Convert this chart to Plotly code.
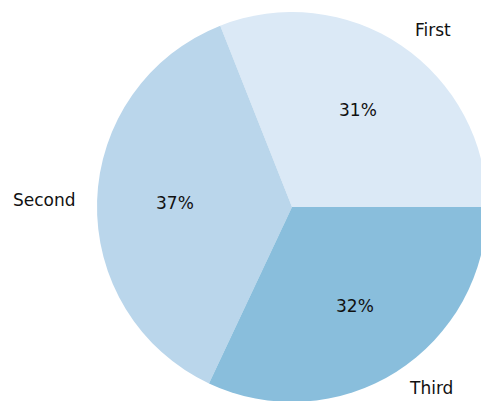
import math
import plotly.graph_objects as go

labels = ["First", "Second", "Third"]
values = [31, 37, 32]
colors = ["#dbe9f6", "#bad6eb", "#89bedc"]

W, H = 488, 402          # figure slightly wider than the window: pie is clipped like the original
cx, cy, r = 292, 207, 195  # pie centre / radius in pixels

total = sum(values)
# plotly counterclockwise: first slice lies clockwise of the rotation line
rotation = 90 - 360 * values[0] / total

fig = go.Figure(go.Pie(
    labels=labels, values=values, sort=False,
    direction="counterclockwise", rotation=rotation,
    marker=dict(colors=colors, line=dict(width=0)),
    textinfo="none", hoverinfo="label+percent",
    domain=dict(x=[(cx - r) / W, (cx + r) / W],
                y=[max(0, (H - cy - r) / H), (H - cy + r) / H]),
    showlegend=False,
))

annotations = []
start = 0.0
font = dict(family="DejaVu Sans", size=17, color="#111")
for lab, v in zip(labels, values):
    frac = v / total
    mid = math.radians((start + frac / 2) * 360)
    start += frac
    lx = cx + 1.1 * r * math.cos(mid)
    ly = cy - 1.1 * r * math.sin(mid)
    annotations.append(dict(
        x=lx / W, y=1 - ly / H, xref="paper", yref="paper",
        text=lab, showarrow=False,
        xanchor="left" if math.cos(mid) > 0 else "right", yanchor="middle",
        font=font))
    px = cx + 0.6 * r * math.cos(mid)
    py = cy - 0.6 * r * math.sin(mid)
    annotations.append(dict(
        x=px / W, y=1 - py / H, xref="paper", yref="paper",
        text=f"{round(100 * frac)}%", showarrow=False,
        xanchor="center", yanchor="middle",
        font=font))

fig.update_layout(
    width=W, height=H, margin=dict(l=0, r=0, t=0, b=0),
    paper_bgcolor="white", plot_bgcolor="white",
    annotations=annotations,
)
fig.write_html(
    "out.html",
    config={"displayModeBar": False},
    post_script="document.documentElement.style.overflow='hidden';"
                "document.body.style.margin='0';document.body.style.overflow='hidden';",
)
